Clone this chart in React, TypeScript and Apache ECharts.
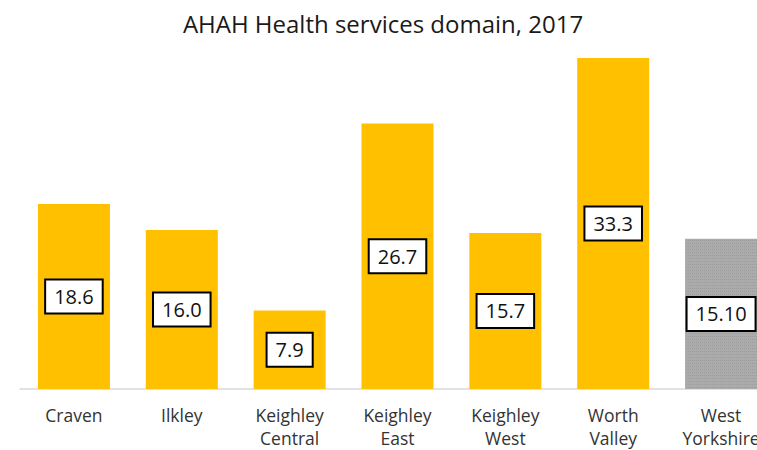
import React, { useEffect, useRef } from "react";
import * as echarts from "echarts";

const categories = [
  "Craven",
  "Ilkley",
  "Keighley\nCentral",
  "Keighley\nEast",
  "Keighley\nWest",
  "Worth\nValley",
  "West\nYorkshire",
];
const values = [18.6, 16.0, 7.9, 26.7, 15.7, 33.3, 15.1];
const labelTexts = ["18.6", "16.0", "7.9", "26.7", "15.7", "33.3", "15.10"];
const barColors = ["#FFC000", "#FFC000", "#FFC000", "#FFC000", "#FFC000", "#FFC000", "#ABABAB"];
const titleText = "AHAH Health services domain, 2017";

const FONT = "'Open Sans', 'Noto Sans', sans-serif";

export default function App() {
  const ref = useRef<HTMLDivElement>(null);
  useEffect(() => {
    if (!ref.current) return;
    const chart = echarts.init(ref.current, null, { renderer: "svg" });
    chart.setOption({
      animation: false,
      backgroundColor: "#ffffff",
      title: {
        text: titleText,
        left: 378,
        textAlign: "center",
        top: 6,
        textStyle: { fontFamily: FONT, fontSize: 24, fontWeight: "normal", color: "#1a1a1a" },
      },
      grid: { left: 20, right: 0, top: 41, bottom: 61, containLabel: false, outerBoundsMode: "none" },
      xAxis: {
        type: "category",
        data: categories,
        axisLine: { lineStyle: { color: "#D9D9D9", width: 1.5 } },
        axisTick: { show: false },
        axisLabel: {
          fontFamily: FONT,
          fontSize: 17.5,
          color: "#333333",
          margin: 14,
          lineHeight: 23,
          interval: 0,
        },
      },
      yAxis: {
        type: "value",
        min: 0,
        max: 35,
        show: false,
        splitLine: { show: false },
      },
      series: [
        {
          type: "bar",
          barWidth: 72,
          data: values.map((v, i) => ({
            value: v,
            itemStyle: {
              color: barColors[i],
              decal:
                i === values.length - 1
                  ? {
                      symbol: "rect",
                      symbolSize: 1,
                      dashArrayX: [1, 1],
                      dashArrayY: [1, 2],
                      color: "rgba(130,130,130,0.35)",
                    }
                  : undefined,
            },
            label: { formatter: labelTexts[i] },
          })),
          label: {
            show: true,
            position: "inside",
            fontFamily: FONT,
            fontSize: 20,
            color: "#111111",
            backgroundColor: "#ffffff",
            borderColor: "#000000",
            borderWidth: 2,
            padding: [7, 8, 5, 8],
          },
        },
      ],
    });
    return () => chart.dispose();
  }, []);
  return (
    <div style={{ position: "fixed", left: 0, top: 0, width: 757, height: 450, overflow: "hidden", background: "#fff" }}>
      <div ref={ref} style={{ width: 775, height: 450 }} />
    </div>
  );
}
